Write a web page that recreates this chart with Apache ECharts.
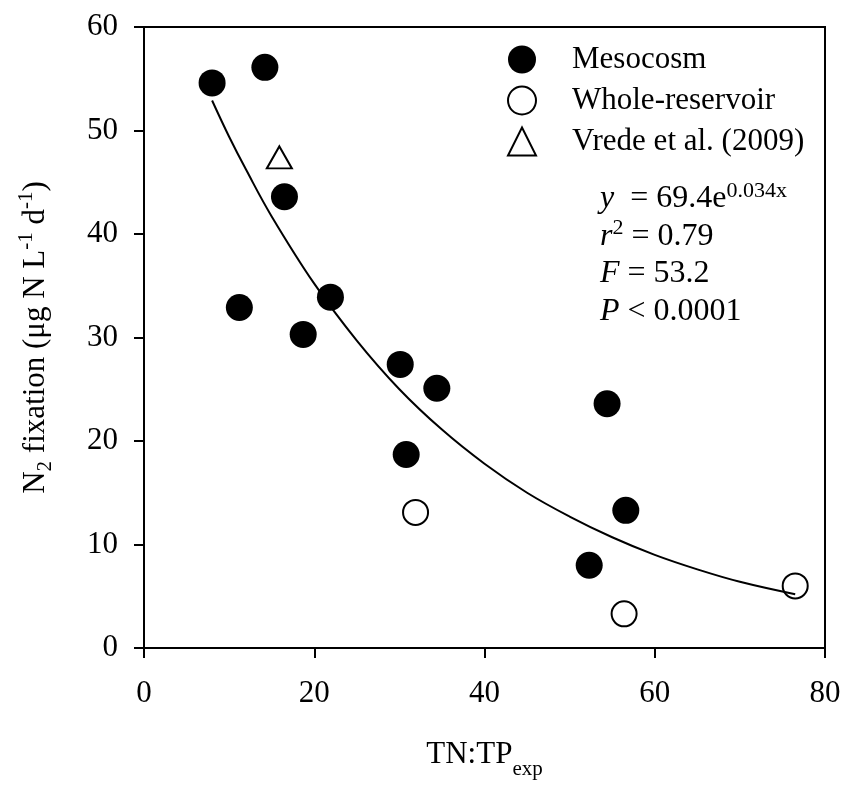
<!DOCTYPE html>
<html>
<head>
<meta charset="utf-8">
<script src="https://cdn.jsdelivr.net/npm/echarts@6/dist/echarts.min.js"></script>
<style>html,body{margin:0;padding:0;background:#fff;}#chart{width:847px;height:785px;}</style>
</head>
<body>
<div id="chart"></div>
<script>
// ---- data ----
const seriesNames = ['Mesocosm', 'Whole-reservoir', 'Vrede et al. (2009)'];
const mesocosm = [[8.0,54.6],[14.2,56.1],[16.5,43.6],[11.2,32.9],[21.9,33.9],[18.7,30.3],[30.1,27.4],[34.4,25.1],[30.8,18.7],[54.4,23.6],[56.6,13.3],[52.3,8.0]];
const wholeReservoir = [[31.9,13.1],[56.4,3.3],[76.5,6.0]];
const vrede = [[15.9,47.4]];
const fitCurve = [[8,52.9],[10,49.4],[12,46.2],[15,41.7],[20,35.2],[25,29.7],[30,25.0],[35,21.1],[40,17.8],[45,15.0],[50,12.7],[55,10.7],[60,9.0],[65,7.6],[70,6.4],[76.5,5.2]];
const xTicks = {min: 0, max: 80, interval: 20};
const yTicks = {min: 0, max: 60, interval: 10};
const statLines = ['y', '69.4e', '0.034x', 'r', '2', '0.79', 'F', '53.2', 'P', '0.0001'];

const FONT = '"Liberation Serif", "Times New Roman", serif';
const chart = echarts.init(document.getElementById('chart'), null, {renderer: 'canvas'});

const option = {
  backgroundColor: '#fff',
  animation: false,
  grid: {left: 144, right: 22, top: 27, bottom: 135, show: true, borderColor: '#000', borderWidth: 2, backgroundColor: 'transparent'},
  legend: {
    orient: 'vertical', left: 502, top: 39, itemWidth: 28, itemHeight: 28, itemGap: 10,
    selectedMode: false,
    data: seriesNames,
    textStyle: {fontFamily: FONT, fontSize: 31, color: '#000', lineHeight: 28, padding: [0, 0, 0, 31]}
  },
  xAxis: {
    type: 'value', min: xTicks.min, max: xTicks.max, interval: xTicks.interval,
    axisLine: {show: true, lineStyle: {color: '#000', width: 2}},
    axisTick: {show: true, length: 10, lineStyle: {color: '#000', width: 2}},
    splitLine: {show: false},
    axisLabel: {color: '#000', fontFamily: FONT, fontSize: 31, margin: 30},
    name: '{n|TN:TP}{sub|exp}', nameLocation: 'middle', nameGap: 82,
    nameTextStyle: {
      rich: {
        n: {fontFamily: FONT, fontSize: 31, color: '#000', lineHeight: 50},
        sub: {fontFamily: FONT, fontSize: 21, color: '#000', lineHeight: 21, verticalAlign: 'bottom'}
      }
    }
  },
  yAxis: {
    type: 'value', min: yTicks.min, max: yTicks.max, interval: yTicks.interval,
    axisLine: {show: true, lineStyle: {color: '#000', width: 2}},
    axisTick: {show: true, length: 10, lineStyle: {color: '#000', width: 2}},
    splitLine: {show: false},
    axisLabel: {color: '#000', fontFamily: FONT, fontSize: 31, margin: 26},
    name: '{n|N}{sub|2}{n| fixation (μg N L}{sup|-1}{n| d}{sup|-1}{n|)}',
    nameLocation: 'middle', nameGap: 88, nameRotate: 90,
    nameTextStyle: {
      rich: {
        n: {fontFamily: FONT, fontSize: 31, color: '#000', lineHeight: 40},
        sub: {fontFamily: FONT, fontSize: 21, color: '#000', lineHeight: 21, verticalAlign: 'bottom'},
        sup: {fontFamily: FONT, fontSize: 21, color: '#000', lineHeight: 21, verticalAlign: 'top'}
      }
    }
  },
  graphic: [{
    type: 'text', left: 600, top: 180, z: 10,
    style: {
      text: '{i|' + statLines[0] + '}{n|  = ' + statLines[1] + '}{s|' + statLines[2] + '}\n' +
            '{i|' + statLines[3] + '}{s|' + statLines[4] + '}{n| = ' + statLines[5] + '}\n' +
            '{i|' + statLines[6] + '}{n| = ' + statLines[7] + '}\n' +
            '{i|' + statLines[8] + '}{n| < ' + statLines[9] + '}',
      rich: {
        i: {fontFamily: FONT, fontStyle: 'italic', fontSize: 32, fill: '#000', lineHeight: 37.5},
        n: {fontFamily: FONT, fontSize: 32, fill: '#000', lineHeight: 37.5},
        s: {fontFamily: FONT, fontSize: 22, fill: '#000', lineHeight: 21, verticalAlign: 'top'}
      }
    }
  }],
  series: [
    {
      name: seriesNames[0], type: 'scatter', data: mesocosm, symbol: 'circle', symbolSize: 27, z: 3,
      itemStyle: {color: '#000', opacity: 1}, emphasis: {disabled: true}
    },
    {
      name: seriesNames[1], type: 'scatter', data: wholeReservoir, symbol: 'circle', symbolSize: 25, z: 3,
      itemStyle: {color: '#fff', borderColor: '#000', borderWidth: 2, opacity: 1}, emphasis: {disabled: true}
    },
    {
      name: seriesNames[2], type: 'scatter', data: vrede, symbol: 'triangle', symbolSize: [25, 22], z: 3,
      itemStyle: {color: '#fff', borderColor: '#000', borderWidth: 2, opacity: 1}, emphasis: {disabled: true}
    },
    {
      name: 'fit', type: 'line', data: fitCurve, smooth: 0.4, showSymbol: false, symbol: 'none', z: 4,
      lineStyle: {color: '#000', width: 2}, emphasis: {disabled: true}
    }
  ]
};
chart.setOption(option);
</script>
</body>
</html>
